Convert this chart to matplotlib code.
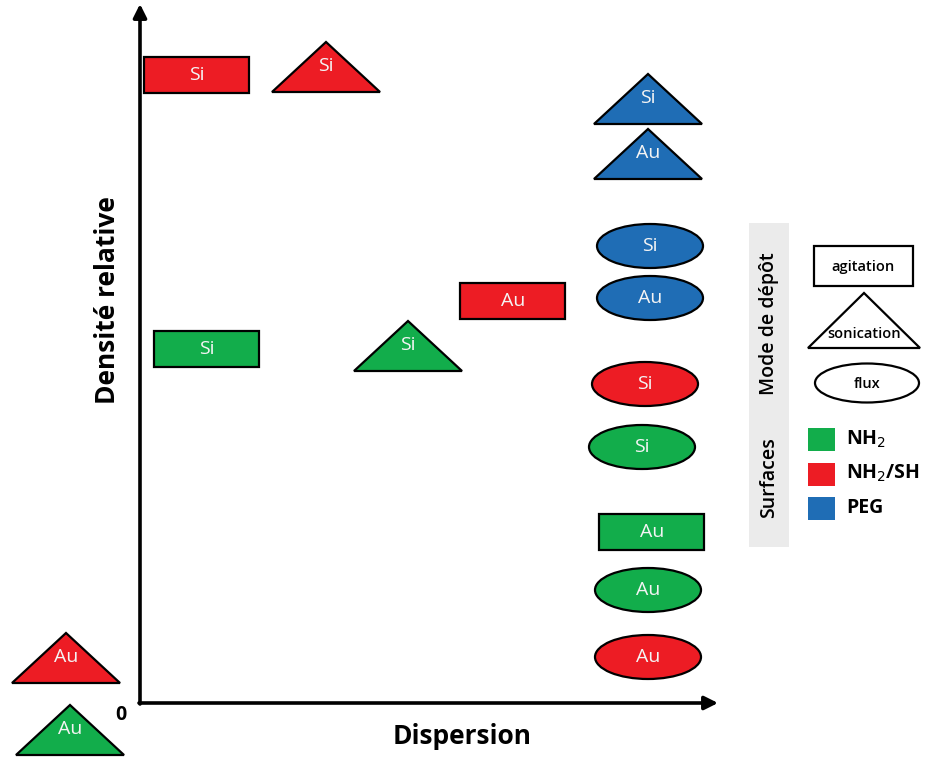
import matplotlib
matplotlib.use("Agg")
import matplotlib.pyplot as plt
import matplotlib.patches as mpatches

# shape data: deposition mode, surface chemistry, substrate, dispersion, relative density
MODES      = ["agitation", "sonication", "sonication", "sonication", "flux", "flux",
              "agitation", "agitation", "sonication", "flux", "flux", "agitation",
              "flux", "flux", "sonication", "sonication"]
SURFACES   = ["NH2/SH", "NH2/SH", "PEG", "PEG", "PEG", "PEG",
              "NH2/SH", "NH2", "NH2", "NH2/SH", "NH2", "NH2",
              "NH2", "NH2/SH", "NH2/SH", "NH2"]
SUBSTRATES = ["Si", "Si", "Si", "Au", "Si", "Au",
              "Au", "Si", "Si", "Si", "Si", "Au",
              "Au", "Au", "Au", "Au"]
DISPERSION = [57, 186, 508, 508, 510, 510, 373, 67, 268, 505, 502, 512, 508, 508, -74, -70]
DENSITY    = [628, 636, 604, 549, 457, 405, 402, 354, 357, 319, 256, 171, 113, 46, 45, -27]

SURF_COLORS = {"NH2": "#12AD4B", "NH2/SH": "#ED1C24", "PEG": "#1F6DB5"}
SURF_LABELS = {"NH2": "NH$_2$", "NH2/SH": "NH$_2$/SH", "PEG": "PEG"}

FONT = "Open Sans"
W, H = 929, 757
OX, OY = 140, 703  # origin of the chart in pixels


def draw_shape(ax, mode, x, y, fc, lw=1.6):
    if mode == "agitation":
        w, h = 105, 36
        p = mpatches.Rectangle((x - w / 2, y - h / 2), w, h, fc=fc, ec="black", lw=lw)
    elif mode == "sonication":
        w, h = 108, 50
        p = mpatches.Polygon([(x - w / 2, y - h / 2), (x + w / 2, y - h / 2), (x, y + h / 2)],
                             closed=True, fc=fc, ec="black", lw=lw)
    else:
        p = mpatches.Ellipse((x, y), 106, 44, fc=fc, ec="black", lw=lw)
    ax.add_patch(p)


def main():
    fig = plt.figure(figsize=(W / 100, H / 100), dpi=100)
    fig.patch.set_facecolor("white")

    # data axes, one unit = one pixel, origin at the axis corner
    ax = fig.add_axes([0, 0, 1, 1])
    ax.set_xlim(-OX, W - OX)
    ax.set_ylim(OY - H, OY)
    ax.axis("off")

    arrow = dict(arrowstyle="-|>", color="black", lw=2.6, mutation_scale=20, shrinkA=0, shrinkB=0)
    ax.annotate("", xy=(0, 699), xytext=(0, -1), arrowprops=arrow)
    ax.annotate("", xy=(578, 0), xytext=(-1, 0), arrowprops=arrow)

    ax.text(-19, -12, "0", ha="center", va="center", fontsize=14, fontweight="bold", family=FONT)
    ax.text(-32, 403, "Densité relative", rotation=90, ha="center", va="center",
            fontsize=19, fontweight="bold", family=FONT)
    ax.text(322, -34, "Dispersion", ha="center", va="center",
            fontsize=19, fontweight="bold", family=FONT)

    for mode, surf, sub, x, y in zip(MODES, SURFACES, SUBSTRATES, DISPERSION, DENSITY):
        draw_shape(ax, mode, x, y, SURF_COLORS[surf])
        ty = y + 1 if mode == "sonication" else y
        ax.text(x, ty, sub, ha="center", va="center", color="#F4F4F4", fontsize=14, family=FONT)

    # legend in pixel coordinates
    lg = fig.add_axes([0, 0, 1, 1])
    lg.set_xlim(0, W)
    lg.set_ylim(H, 0)
    lg.axis("off")
    lg.add_patch(mpatches.Rectangle((749, 223), 40, 324, fc="#EBEBEB", ec="none"))
    lg.text(769, 324, "Mode de dépôt", rotation=90, ha="center", va="center",
            fontsize=14, family=FONT, fontweight="semibold")
    lg.text(769, 478, "Surfaces", rotation=90, ha="center", va="center",
            fontsize=14, family=FONT, fontweight="semibold")

    lg.add_patch(mpatches.Rectangle((814, 246), 99, 40, fc="white", ec="black", lw=1.6))
    lg.text(863, 267, "agitation", ha="center", va="center", fontsize=10.5, family=FONT,
            fontweight="semibold")
    lg.add_patch(mpatches.Polygon([(808, 348), (920, 348), (864, 293)], closed=True,
                                  fc="white", ec="black", lw=1.6))
    lg.text(864, 334, "sonication", ha="center", va="center", fontsize=10.5, family=FONT,
            fontweight="semibold")
    lg.add_patch(mpatches.Ellipse((867, 383), 104, 39, fc="white", ec="black", lw=1.6))
    lg.text(867, 384, "flux", ha="center", va="center", fontsize=10.5, family=FONT,
            fontweight="semibold")

    for i, surf in enumerate(["NH2", "NH2/SH", "PEG"]):
        y0 = 428 + i * 34.5
        lg.add_patch(mpatches.Rectangle((808, y0), 27, 23, fc=SURF_COLORS[surf], ec="none"))
        lg.text(846, y0 + 11, SURF_LABELS[surf], ha="left", va="center",
                fontsize=14, fontweight="bold", family=FONT)

    fig.savefig("out.png", dpi=100, facecolor="white")


if __name__ == "__main__":
    main()
